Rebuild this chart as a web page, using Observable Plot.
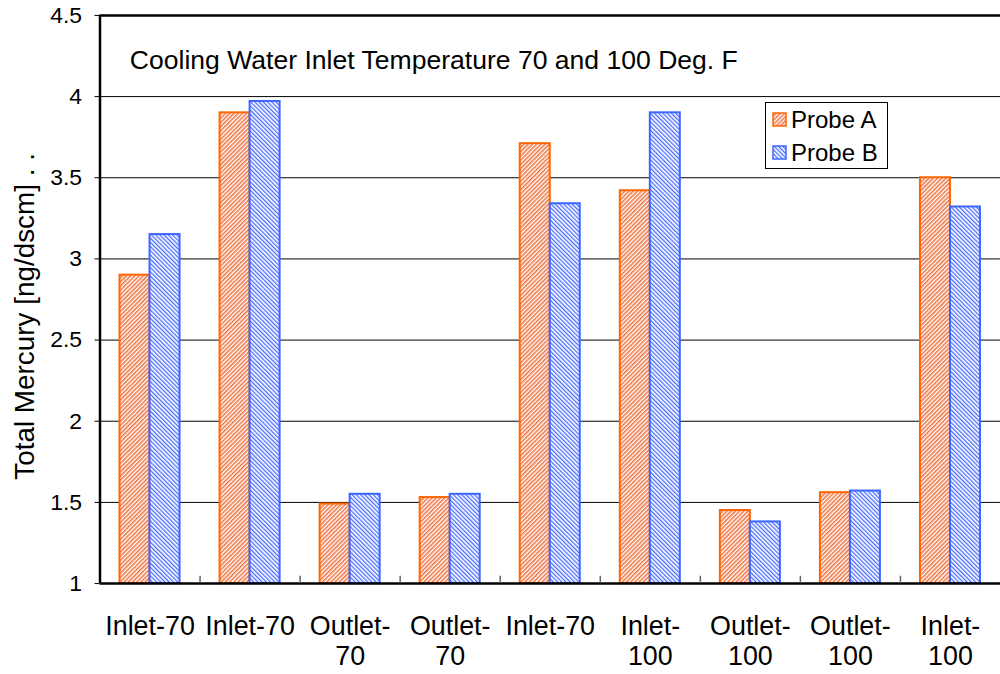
<!DOCTYPE html>
<html>
<head>
<meta charset="utf-8">
<script src="https://cdn.jsdelivr.net/npm/d3@7"></script>
<script src="https://cdn.jsdelivr.net/npm/@observablehq/plot@0.6"></script>
<style>
  html, body { margin: 0; padding: 0; background: #fff; overflow: hidden; }
  #wrap { position: relative; width: 1000px; height: 674px; overflow: hidden; font-family: "Liberation Sans", Arial, sans-serif; }
  #legend { position: absolute; left: 765px; top: 102px; width: 121px; height: 65px; border: 1px solid #000; background: #fff; }
  #legend .sw { position: absolute; left: 6px; width: 15px; height: 15px; }
  #legend .lab { position: absolute; left: 25px; font-size: 24px; line-height: 24px; white-space: nowrap; color: #000; }
</style>
</head>
<body>
<svg width="0" height="0" style="position:absolute">
  <defs>
    <pattern id="pA" width="3" height="3" patternUnits="userSpaceOnUse" patternTransform="rotate(45)">
      <rect width="3" height="3" fill="#ffffff"></rect>
      <rect width="1.6" height="3" fill="#f07848"></rect>
    </pattern>
    <pattern id="pB" width="3" height="3" patternUnits="userSpaceOnUse" patternTransform="rotate(-45)">
      <rect width="3" height="3" fill="#ffffff"></rect>
      <rect width="1.3" height="3" fill="#4a6cff"></rect>
    </pattern>
  </defs>
</svg>
<div id="wrap">
  <div id="chart"></div>
  <div id="legend"></div>
</div>
<script>
// ---- data ----
const categories = ["Inlet-70", "Inlet-70", "Outlet-\n70", "Outlet-\n70", "Inlet-70", "Inlet-\n100", "Outlet-\n100", "Outlet-\n100", "Inlet-\n100"];
const series = ["Probe A", "Probe B"];
const probeA = [2.90, 3.90, 1.49, 1.53, 3.71, 3.42, 1.45, 1.56, 3.50];
const probeB = [3.15, 3.97, 1.55, 1.55, 3.34, 3.90, 1.38, 1.57, 3.32];
const yTicks = [1, 1.5, 2, 2.5, 3, 3.5, 4, 4.5];
const titleText = "Cooling Water Inlet Temperature 70 and 100 Deg. F";
const yLabel = "Total Mercury [ng/dscm] . .";

// ---- styling / layout ----
const colors = {"Probe A": {fill: "url(#pA)", stroke: "#ff6600"}, "Probe B": {fill: "url(#pB)", stroke: "#3d66ff"}};
const barStart = {"Probe A": 0.2, "Probe B": 0.5};
const barWidth = 0.3;

const rows = [];
categories.forEach((c, i) => {
  rows.push({g: i, probe: "Probe A", value: probeA[i]});
  rows.push({g: i, probe: "Probe B", value: probeB[i]});
});
const groups = d3.range(categories.length);
const centers = groups.map(g => g + 0.5);
const boundaries = groups.slice(1);
const yMin = yTicks[0], yMax = yTicks[yTicks.length - 1];
const gridTicks = yTicks.slice(1, -1);

const barMarks = series.map(s => Plot.rectY(rows.filter(d => d.probe === s), {
  x1: d => d.g + barStart[s],
  x2: d => d.g + barStart[s] + barWidth,
  y1: yMin,
  y2: "value",
  fill: colors[s].fill,
  stroke: colors[s].stroke,
  strokeWidth: 2
}));

const chart = Plot.plot({
  width: 1005,
  height: 674,
  marginLeft: 100,
  marginRight: 0,
  marginTop: 15,
  marginBottom: 88,
  x: {domain: [0, categories.length], axis: null},
  y: {domain: [yMin, yMax], axis: null},
  style: {fontFamily: '"Liberation Sans", Arial, sans-serif', background: "#fff", color: "#000"},
  marks: [
    Plot.ruleY(gridTicks, {stroke: "#000", strokeWidth: 1}),
    ...barMarks,
    Plot.ruleY([yMin, yMax], {stroke: "#000", strokeWidth: 2.5}),
    Plot.ruleX([0], {y1: yMin, y2: yMax, stroke: "#000", strokeWidth: 2.5}),
    Plot.ruleX(boundaries, {y1: yMin, y2: yMin + 0.045, stroke: "#666", strokeWidth: 1.5}),
    Plot.axisY(yTicks, {tickSize: 5, tickPadding: 13, fontSize: 23, label: null, stroke: "#000",
      tickFormat: d => String(d)}),
    Plot.axisX(centers, {tickSize: 0, tickPadding: 30, fontSize: 27, lineHeight: 1.12, label: null,
      tickFormat: v => categories[Math.floor(v)]}),
    Plot.text([titleText], {frameAnchor: "top-left", dx: 30, dy: 35, fontSize: 26.7, textAnchor: "start", fill: "#000"}),
    Plot.text([yLabel], {frameAnchor: "left", rotate: -90, dx: -75, dy: 17, fontSize: 28, textAnchor: "middle", fill: "#000"})
  ]
});
document.getElementById("chart").appendChild(chart);

// ---- legend ----
const legend = document.getElementById("legend");
const swTop = [9, 42], labTop = [5, 38];
series.forEach((s, i) => {
  const sw = document.createElement("div");
  sw.className = "sw";
  sw.style.top = swTop[i] + "px";
  sw.innerHTML = `<svg width="15" height="15"><rect x="1" y="1" width="13" height="13" fill="${colors[s].fill}" stroke="${colors[s].stroke}" stroke-width="1.5"></rect></svg>`;
  legend.appendChild(sw);
  const lab = document.createElement("div");
  lab.className = "lab";
  lab.style.top = labTop[i] + "px";
  lab.textContent = s;
  legend.appendChild(lab);
});
</script>
</body>
</html>
